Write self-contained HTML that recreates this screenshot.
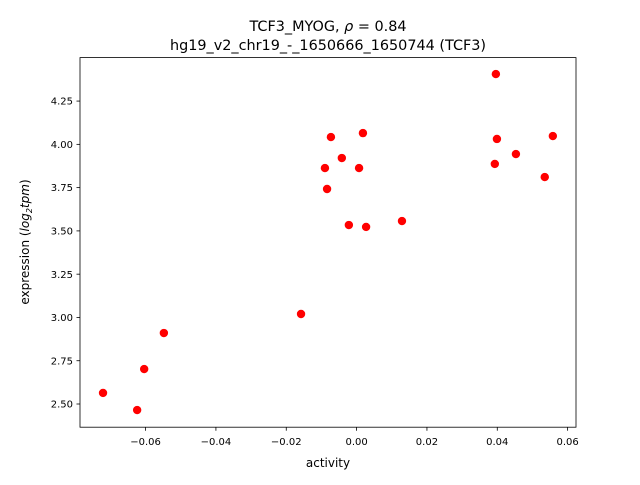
<!DOCTYPE html>
<html><head><meta charset="utf-8"><style>body{margin:0;background:#fff}svg{font-family:"DejaVu Sans","Liberation Sans",sans-serif}</style></head>
<body>
<svg id="c" width="640" height="480" xmlns="http://www.w3.org/2000/svg">
<text x="328" y="31" text-anchor="middle" font-size="14.4">TCF3_MYOG, <tspan font-style="italic">ρ</tspan> = 0.84</text>
<text x="328" y="50" text-anchor="middle" font-size="14.4">hg19_v2_chr19_-_1650666_1650744 (TCF3)</text>
<text x="328" y="467" text-anchor="middle" font-size="12">activity</text>
<text transform="translate(29,242) rotate(-90)" text-anchor="middle" font-size="12">expression (<tspan font-style="italic">log</tspan><tspan font-size="8" dy="3" font-style="italic">2</tspan><tspan dy="-3" font-style="italic">tpm</tspan>)</text>
<g id="marks"></g>
<rect x="80" y="57.6" width="496" height="369.6" fill="none" stroke="#000" stroke-width="0.8"/>
<g id="ticks"></g>
</svg>
<script>
const xs=[-0.0721,-0.0624,-0.0604,-0.0548,-0.0158,-0.0073,-0.0090,-0.0084,-0.0042,-0.0022,0.0007,0.0018,0.0027,0.0129,0.0396,0.0399,0.0393,0.0453,0.0535,0.0558];
const ys=[2.564,2.465,2.702,2.910,3.020,4.042,3.863,3.742,3.921,3.534,3.863,4.065,3.523,3.557,4.406,4.031,3.887,3.944,3.811,4.048];
const xTicks=[-0.06,-0.04,-0.02,0.00,0.02,0.04,0.06];
const xTickLabels=["−0.06","−0.04","−0.02","0.00","0.02","0.04","0.06"];
const yTicks=[2.50,2.75,3.00,3.25,3.50,3.75,4.00,4.25];
const yTickLabels=["2.50","2.75","3.00","3.25","3.50","3.75","4.00","4.25"];
const NS="http://www.w3.org/2000/svg";
const X=v=>356.6+v*3517, Y=v=>404-(v-2.5)*173.1;
const m=document.getElementById('marks'), t=document.getElementById('ticks');
function mk(tag,a,p){const e=document.createElementNS(NS,tag);for(const k in a)e.setAttribute(k,a[k]);p.appendChild(e);return e;}
xs.forEach((x,i)=>{const c=mk('circle',{cx:X(x),cy:Y(ys[i]),r:4.2,fill:'#ff0000'},m);

});
xTicks.forEach((v,i)=>{const l=mk('line',{x1:X(v),x2:X(v),y1:427.2,y2:430.7,stroke:'#000','stroke-width':0.8},t);


const s=mk('text',{x:X(v),y:445,'text-anchor':'middle','font-size':10},t);s.textContent=xTickLabels[i];

});
yTicks.forEach((v,i)=>{const l=mk('line',{x1:76.5,x2:80,y1:Y(v),y2:Y(v),stroke:'#000','stroke-width':0.8},t);


const s=mk('text',{x:73,y:Y(v)+3.6,'text-anchor':'end','font-size':10},t);s.textContent=yTickLabels[i];

});
</script>
</body></html>
